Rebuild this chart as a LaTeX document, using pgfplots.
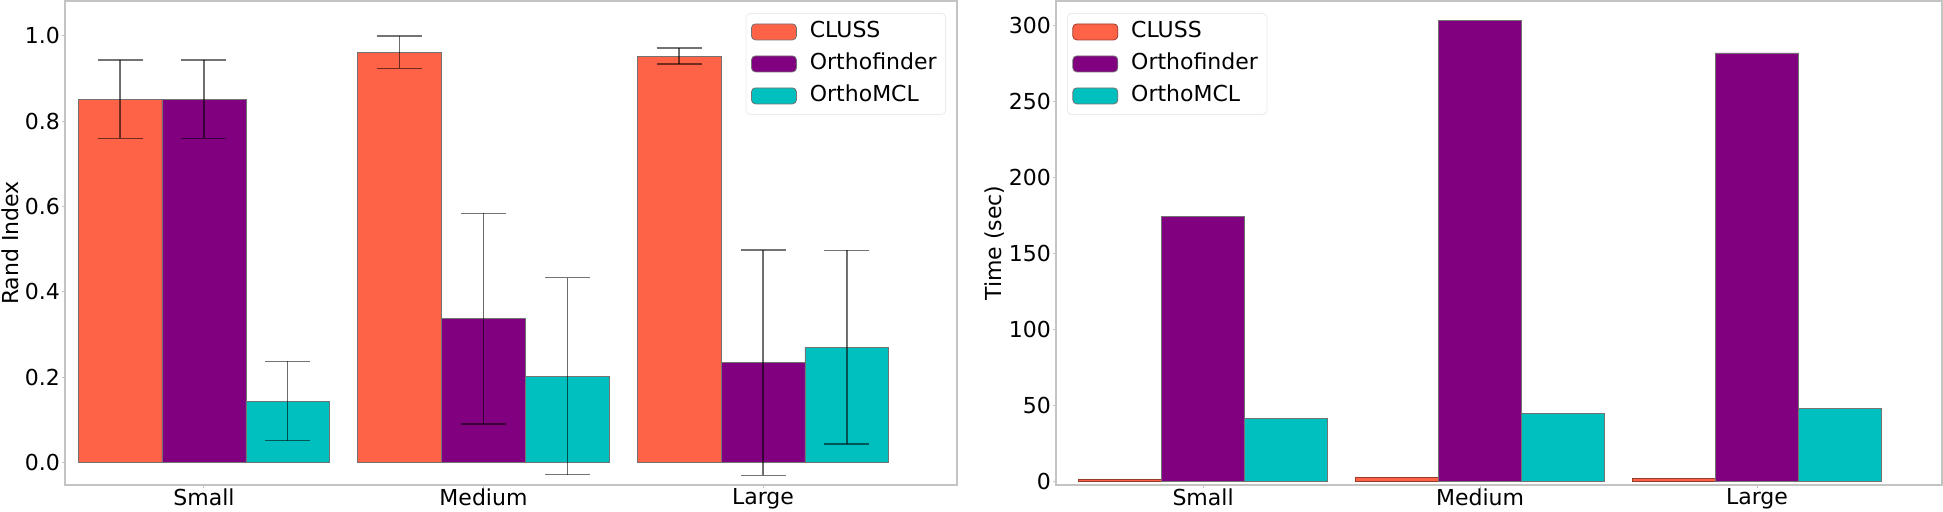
\documentclass[border=0pt]{standalone}
\usepackage{fontspec}
\setmainfont{DejaVu Sans}
\usepackage{pgfplots}
\pgfplotsset{compat=1.18}
\definecolor{cluss}{HTML}{FF6347}
\definecolor{ortho}{HTML}{800080}
\definecolor{omcl}{HTML}{00BFBF}
\definecolor{frame}{HTML}{C4C4C4}

\pgfplotsset{
  panel/.style={
    scale only axis,
    height=242pt,
    ybar=0pt, bar width=0.3,
    xtick={0,1,2}, xticklabels={Small,Medium,Large},
    font=\fontsize{11}{13}\selectfont,
    /pgf/number format/assume math mode=true,
    axis line style={frame, line width=0.6pt},
    tick style={frame, line width=0.5pt},
    major tick length=1.5pt,
    tick align=outside,
    xtick pos=bottom, ytick pos=left,
    xticklabel style={yshift=3.1pt},
    yticklabel style={xshift=2.5pt},
    legend cell align=left,
    legend image code/.code={\draw[#1, line width=0.4pt] (0pt,-4pt) rectangle (22.5pt,4pt);},
    legend style={draw=black!8, rounded corners=2pt, fill=white,
      font=\fontsize{11}{13}\selectfont,
      inner xsep=2.5pt, inner ysep=2pt, row sep=1.5pt, column sep=4.5pt,
      nodes={inner sep=2pt, text height=8pt, text depth=2.5pt}},
  },
  bars/.style={draw=black!55, line width=0.3pt},
}

\begin{document}
\begin{tikzpicture}
\path[use as bounding box] (-32.5pt,-13pt) rectangle (939pt,242.5pt);

% left panel: Rand index
\begin{axis}[panel,
  at={(0pt,0pt)}, anchor=south west,
  width=446pt,
  xmin=-0.497, xmax=2.694,
  ymin=-0.053, ymax=1.082,
  ytick={0,0.2,0.4,0.6,0.8,1.0},
  yticklabel style={/pgf/number format/fixed, /pgf/number format/fixed zerofill, /pgf/number format/precision=1},
  ylabel={Rand Index},
  ylabel style={at={(axis description cs:-0.0617,0.5)}, anchor=center},
  legend style={at={(axis description cs:1,1)}, anchor=north east, xshift=-5.5pt, yshift=-6pt},
  error bars/y dir=both, error bars/y explicit,
  error bars/error bar style={black, opacity=0.55, line width=0.7pt},
  error bars/error mark options={rotate=90, mark size=11.25pt, black, opacity=0.55, line width=0.7pt},
]
\addplot[bars, fill=cluss, bar shift=-0.3] coordinates {
 (0,0.852) +- (0,0.092)
 (1,0.962) +- (0,0.038)
 (2,0.953) +- (0,0.019)
};
\addplot[bars, fill=ortho, bar shift=0] coordinates {
 (0,0.852) +- (0,0.092)
 (1,0.337) +- (0,0.247)
 (2,0.234) +- (0,0.264)
};
\addplot[bars, fill=omcl, bar shift=0.3] coordinates {
 (0,0.144) +- (0,0.093)
 (1,0.202) +- (0,0.231)
 (2,0.270) +- (0,0.227)
};
\legend{CLUSS, Orthofinder, OrthoMCL}
\end{axis}

% right panel: running time
\begin{axis}[panel,
  at={(495.5pt,0pt)}, anchor=south west,
  width=443pt,
  xmin=-0.531, xmax=2.668,
  ymin=-2.6, ymax=315.9,
  ytick={0,50,100,150,200,250,300},
  ylabel={Time (sec)},
  ylabel style={at={(axis description cs:-0.0688,0.5)}, anchor=center},
  legend style={at={(axis description cs:0,1)}, anchor=north west, xshift=5.5pt, yshift=-6pt},
]
\addplot[bars, fill=cluss, draw=cluss!60!black, bar shift=-0.3] coordinates {
 (0,1.3) (1,2.2) (2,1.5)
};
\addplot[bars, fill=ortho, bar shift=0] coordinates {
 (0,173.9) (1,303.3) (2,281.8)
};
\addplot[bars, fill=omcl, bar shift=0.3] coordinates {
 (0,41.0) (1,44.5) (2,47.8)
};
\legend{CLUSS, Orthofinder, OrthoMCL}
\end{axis}
\end{tikzpicture}
\end{document}
